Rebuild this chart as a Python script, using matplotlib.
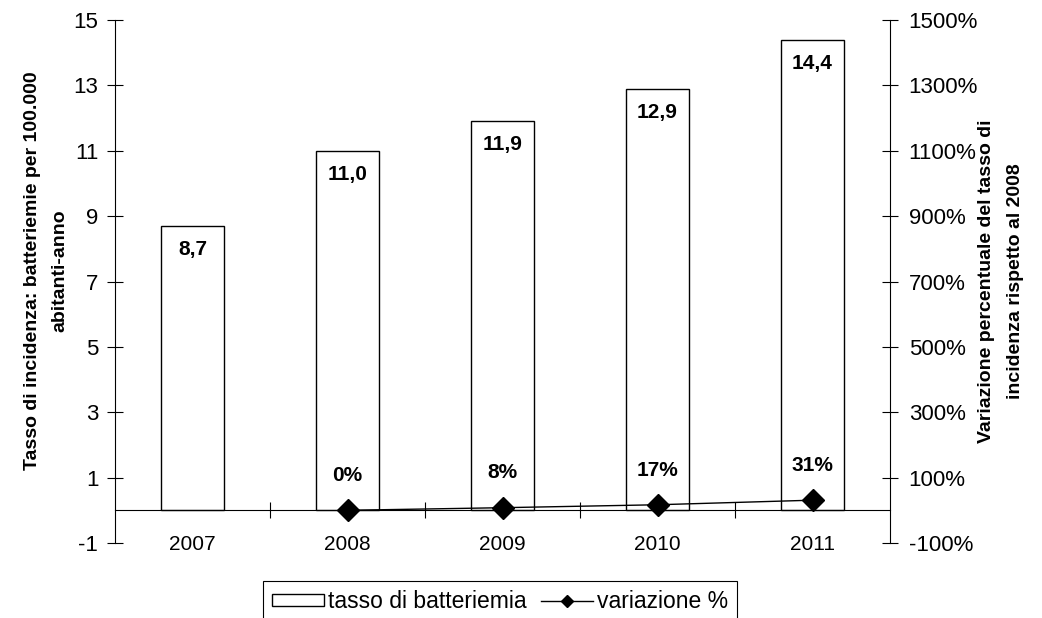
import matplotlib.pyplot as plt
from matplotlib.ticker import FixedLocator

plt.rcParams['font.family'] = ['Liberation Sans', 'DejaVu Sans']
plt.rcParams['axes.unicode_minus'] = False

years = ['2007', '2008', '2009', '2010', '2011']
rate = [8.7, 11.0, 11.9, 12.9, 14.4]
change_years = ['2008', '2009', '2010', '2011']
change_pct = [0, 8, 17, 31]

rate_labels = ['{:.1f}'.format(v).replace('.', ',') for v in rate]

fig = plt.figure(figsize=(10.42, 6.18), dpi=100)
ax = fig.add_axes([115 / 1042, 1 - 543 / 618, 775 / 1042, 523 / 618])
ax2 = ax.twinx()

x = list(range(len(years)))
bars = ax.bar(x, rate, width=0.41, color='white', edgecolor='black',
              linewidth=1, label='tasso di batteriemia', zorder=2)
for xi, v, lab in zip(x, rate, rate_labels):
    ax.annotate(lab, (xi, v), xytext=(0, -17), textcoords='offset points',
                ha='center', va='center', fontsize=15, fontweight='bold')

ax.set_xlim(-0.5, len(years) - 0.5)
ax.set_ylim(-1, 15)
ax.set_yticks(range(-1, 16, 2))
ax.tick_params(axis='y', direction='inout', length=11, width=0.8,
               labelsize=16, pad=6.5)

# category axis sits on the zero line, ticks between categories
ax.spines['bottom'].set_position(('data', 0))
ax.spines['top'].set_visible(False)
ax.spines['right'].set_visible(False)
ax.set_xticks(x)
ax.set_xticklabels(years)
ax.xaxis.set_minor_locator(FixedLocator([i + 0.5 for i in x[:-1]]))
ax.tick_params(axis='x', which='major', length=0, labelsize=15, pad=17.5)
ax.tick_params(axis='x', which='minor', direction='inout', length=11, width=0.8)

cx = [years.index(y) for y in change_years]
line, = ax2.plot(cx, change_pct, color='black', linewidth=1, marker='D',
                 markersize=11, label='variazione %', zorder=3)
for xi, v in zip(cx, change_pct):
    ax2.annotate('{}%'.format(v), (xi, v), xytext=(0, 25),
                 textcoords='offset points', ha='center', va='center',
                 fontsize=15, fontweight='bold')
ax2.set_ylim(-100, 1500)
ax2.set_yticks(range(-100, 1501, 200))
ax2.set_yticklabels(['{}%'.format(t) for t in range(-100, 1501, 200)])
ax2.tick_params(axis='y', direction='inout', length=11, width=0.8,
                labelsize=16, pad=8)
for s in ('top', 'bottom', 'left'):
    ax2.spines[s].set_visible(False)

ax.set_ylabel('Tasso di incidenza: batteriemie per 100.000\nabitanti-anno',
              fontsize=14, fontweight='bold', linespacing=1.8)
ax.yaxis.set_label_coords(-0.0606, 0.52)
ax2.set_ylabel('Variazione percentuale del tasso di\nincidenza rispetto al 2008',
               fontsize=14, fontweight='bold', rotation=90,
               linespacing=1.95)
ax2.yaxis.set_label_coords(1.113, 0.5)

leg = fig.legend(handles=[bars, line], loc='upper center',
                 bbox_to_anchor=(500 / 1042, 1 - 581 / 618), ncol=2,
                 frameon=True, fancybox=False, edgecolor='black',
                 framealpha=1, fontsize=16.5, handlelength=2.27,
                 handleheight=0.4, markerscale=0.6,
                 columnspacing=0.65, handletextpad=0.15, borderpad=0.4,
                 borderaxespad=0)
leg.get_frame().set_linewidth(0.8)

fig.savefig('out.png', dpi=100)
